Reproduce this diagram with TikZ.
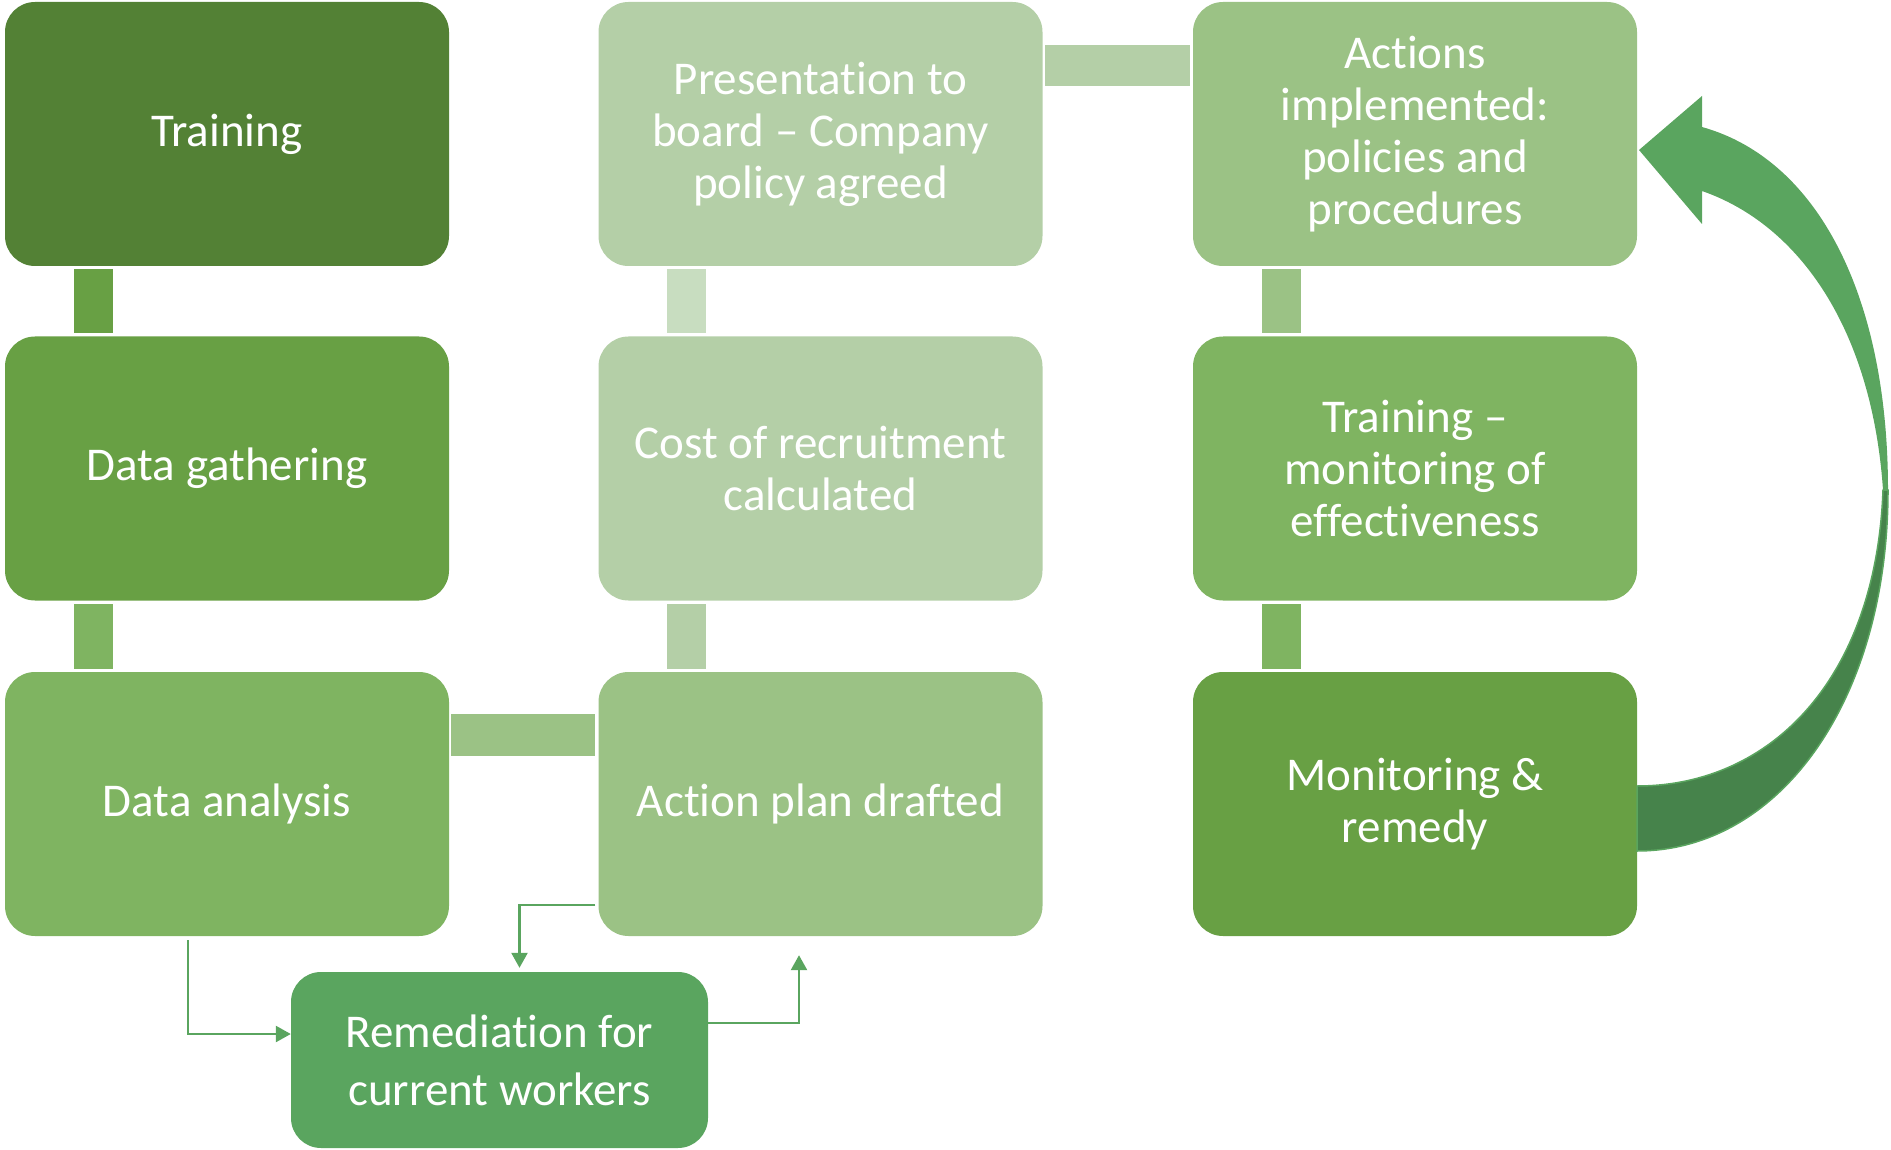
\documentclass[tikz,border=0pt]{standalone}
\usepackage{fontspec}
\setmainfont{Carlito}[Ligatures={TeX,NoCommon,NoContextual},Contextuals=NoAlternate]
\usetikzlibrary{arrows.meta}

% greens used for the boxes and bars
\definecolor{gTrain}{HTML}{538135}
\definecolor{gMid}{HTML}{68A044}
\definecolor{gSoft}{HTML}{7FB461}
\definecolor{gPale}{HTML}{9BC285}
\definecolor{gPaler}{HTML}{B4CFA7}
\definecolor{gBar}{HTML}{C8DDC0}
\definecolor{gRem}{HTML}{5AA55F}
\definecolor{gDeep}{HTML}{46834B}

\begin{document}
\begin{tikzpicture}[x=1pt,y=-1pt,
    box/.style={rounded corners=30pt,minimum width=444pt,minimum height=264pt,
        inner sep=0pt,align=center,text=white,font=\fontsize{47}{52}\selectfont},
    link/.style={draw=gRem,line width=2.5pt,-{Triangle[length=15pt,width=16pt]}}]
    \useasboundingbox (0,0) rectangle (1891,1150);

    % first column
    \node[box,fill=gTrain] (train) at (227,134) {Training};
    \node[box,fill=gMid] (gather) at (227,468.5) {Data gathering};
    \node[box,fill=gSoft] (analysis) at (227,804) {Data analysis};
    % second column
    \node[box,fill=gPaler] (board) at (820.5,134) {Presentation to\\board – Company\\policy agreed};
    \node[box,fill=gPaler] (cost) at (820.5,468.5) {Cost of recruitment\\calculated};
    \node[box,fill=gPale] (plan) at (820.5,804) {Action plan drafted};
    % third column
    \node[box,fill=gPale] (actions) at (1415,134) {Actions\\implemented:\\policies and\\procedures};
    \node[box,fill=gSoft] (effect) at (1415,468.5) {Training –\\monitoring of\\effectiveness};
    \node[box,fill=gMid] (monitor) at (1415,804) {Monitoring \&\\remedy};
    % side box
    \node[box,fill=gRem,minimum width=417pt,minimum height=176pt,
        font=\fontsize{47}{58}\selectfont] (remedy) at (499.5,1060) {Remediation for\\current workers};

    % vertical bars
    \fill[gMid] ([xshift=69pt,yshift=-3pt]train.south west) rectangle ([xshift=108pt,yshift=3pt]gather.north west);
    \fill[gSoft] ([xshift=69pt,yshift=-3pt]gather.south west) rectangle ([xshift=108pt,yshift=3pt]analysis.north west);
    \fill[gBar] ([xshift=69pt,yshift=-3pt]board.south west) rectangle ([xshift=108pt,yshift=3pt]cost.north west);
    \fill[gPaler] ([xshift=69pt,yshift=-3pt]cost.south west) rectangle ([xshift=108pt,yshift=3pt]plan.north west);
    \fill[gPale] ([xshift=69pt,yshift=-3pt]actions.south west) rectangle ([xshift=108pt,yshift=3pt]effect.north west);
    \fill[gSoft] ([xshift=69pt,yshift=-3pt]effect.south west) rectangle ([xshift=108pt,yshift=3pt]monitor.north west);
    % horizontal bars
    \fill[gPale] ([xshift=2pt,yshift=-42pt]analysis.north east) rectangle ([xshift=-3pt,yshift=-84pt]plan.north west);
    \fill[gPaler] ([xshift=2pt,yshift=-43pt]board.north east) rectangle ([xshift=-3pt,yshift=-84pt]actions.north west);

    % thin arrows round the remediation box
    \draw[link] ([xshift=-39pt,yshift=-4pt]analysis.south) |- ([yshift=26pt]remedy.west);
    \draw[link] ([xshift=-3pt,yshift=31pt]plan.south west) -| ([xshift=20pt,yshift=4pt]remedy.north);
    \draw[link] ([yshift=37pt]remedy.east) -| ([xshift=-21.5pt,yshift=-19pt]plan.south);

    % big curved arrow back to the top
    \fill[gRem] (1702,127) .. controls (1820,160) and (1888,300) .. (1888,490)
        -- (1883,490) .. controls (1872,330) and (1800,225) .. (1702,191)
        -- (1702,224) -- (1639,150) -- (1702,96) -- cycle;
    \filldraw[fill=gDeep,draw=gRem,line width=1.5pt] (1637,786)
        .. controls (1770,786) and (1876,680) .. (1883,490) -- (1888,490)
        .. controls (1888,700) and (1780,851) .. (1637,851) -- cycle;
\end{tikzpicture}
\end{document}
